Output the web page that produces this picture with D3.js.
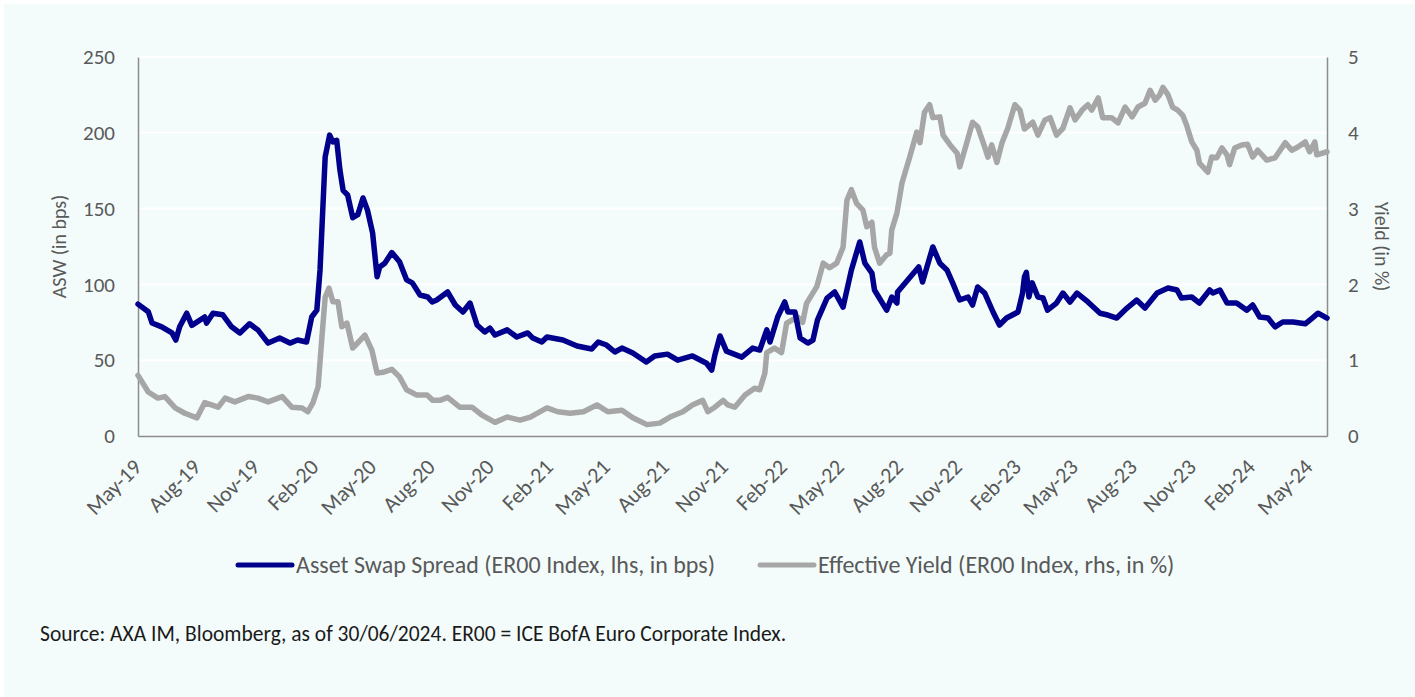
<!DOCTYPE html>
<html>
<head>
<meta charset="utf-8">
<script src="https://cdn.jsdelivr.net/npm/d3@7"></script>
<style>
  body { margin: 0; background: #ffffff; }
  svg { display: block; font-family: Carlito, Calibri, Lato, sans-serif; }
</style>
</head>
<body>
<svg id="chart" width="1415" height="697"></svg>
<script>
// ---------------- data ----------------
var aswDates = ["2019-05-31","2019-06-16","2019-06-22","2019-07-07","2019-07-23","2019-07-29","2019-08-04","2019-08-15","2019-08-23","2019-09-12","2019-09-15","2019-09-25","2019-10-10","2019-10-24","2019-11-06","2019-11-21","2019-12-04","2019-12-20","2020-01-07","2020-01-23","2020-02-04","2020-02-18","2020-02-26","2020-03-05","2020-03-10","2020-03-18","2020-03-25","2020-03-30","2020-04-05","2020-04-10","2020-04-15","2020-04-22","2020-04-30","2020-05-08","2020-05-16","2020-05-23","2020-05-31","2020-06-07","2020-06-11","2020-06-19","2020-06-30","2020-07-12","2020-07-23","2020-08-01","2020-08-13","2020-08-25","2020-09-01","2020-09-08","2020-09-25","2020-10-07","2020-10-19","2020-10-30","2020-11-10","2020-11-22","2020-11-30","2020-12-08","2020-12-27","2021-01-11","2021-01-28","2021-02-05","2021-02-19","2021-02-27","2021-03-24","2021-04-15","2021-05-08","2021-05-18","2021-05-31","2021-06-13","2021-06-24","2021-07-11","2021-08-01","2021-08-14","2021-09-03","2021-09-19","2021-10-12","2021-11-03","2021-11-11","2021-11-16","2021-11-24","2021-12-04","2021-12-28","2022-01-14","2022-01-25","2022-02-05","2022-02-10","2022-02-22","2022-03-05","2022-03-10","2022-03-21","2022-03-29","2022-04-10","2022-04-18","2022-04-25","2022-05-10","2022-05-22","2022-06-04","2022-06-17","2022-06-30","2022-07-08","2022-07-19","2022-07-23","2022-08-11","2022-08-19","2022-08-27","2022-08-28","2022-09-30","2022-10-06","2022-10-22","2022-11-02","2022-11-13","2022-11-22","2022-12-03","2022-12-16","2022-12-23","2022-12-31","2023-01-11","2023-01-24","2023-02-03","2023-02-14","2023-03-04","2023-03-11","2023-03-14","2023-03-17","2023-03-21","2023-03-26","2023-04-04","2023-04-12","2023-04-19","2023-05-03","2023-05-13","2023-05-24","2023-06-04","2023-06-21","2023-07-10","2023-07-22","2023-08-05","2023-08-21","2023-09-05","2023-09-18","2023-10-07","2023-10-24","2023-11-07","2023-11-14","2023-11-30","2023-12-12","2023-12-28","2024-01-02","2024-01-13","2024-01-24","2024-02-08","2024-02-24","2024-03-04","2024-03-15","2024-03-28","2024-04-08","2024-04-20","2024-05-06","2024-05-25","2024-06-05","2024-06-14","2024-06-28"];
var aswValues = [87,82,74.5,72,68,63.3,72,81,73,78.5,74.5,81,80,72,68,74,70,61.3,64.6,61.3,63.3,62,78.5,83,109.5,184,198.5,194,195,175.5,162,159,144,146,157,149,134,105,111.5,114,121,115,103,101,93,91.7,88.4,89.7,95,86.4,81.8,87.7,73.2,68.6,71.2,66.6,70,65.3,68,64.6,62,65.3,63.3,59.4,57.4,62,60,55.4,58,54.7,48.8,52.8,54,50,52.8,48,43.5,53.4,66,56,52,58,56.7,70,62,78.5,88.4,81.8,81.8,64.6,61.3,63.3,76.5,91,95,85,109.5,128,114,107.5,96.3,83,91.7,87.7,95,111.5,101.6,124.7,114,109.5,101,89.7,91.7,86.4,98.3,94.3,81.8,73.2,77.8,81.8,94.3,105,108,91.7,101,91.7,91,83,87.7,94.3,88.4,94.3,88.4,81,79.8,77.8,84.4,89.7,84.4,94.3,97.6,96.3,91,91.7,87.7,96.3,94.3,96.3,87.7,87.7,83,86.4,78.5,77.8,72,75.2,75.2,74,77.8,81,77.8];

var yieldDates = ["2019-05-31","2019-06-16","2019-07-01","2019-07-12","2019-07-28","2019-08-12","2019-08-31","2019-09-12","2019-10-03","2019-10-14","2019-10-29","2019-11-19","2019-12-04","2019-12-20","2020-01-11","2020-01-26","2020-02-11","2020-02-20","2020-02-28","2020-03-07","2020-03-13","2020-03-18","2020-03-24","2020-03-30","2020-04-07","2020-04-13","2020-04-21","2020-04-30","2020-05-08","2020-05-19","2020-05-30","2020-06-07","2020-06-16","2020-06-30","2020-07-12","2020-07-23","2020-08-08","2020-08-24","2020-09-02","2020-09-13","2020-09-25","2020-10-14","2020-11-02","2020-11-17","2020-12-08","2020-12-27","2021-01-16","2021-02-01","2021-02-27","2021-03-16","2021-04-04","2021-04-25","2021-05-16","2021-06-02","2021-06-24","2021-07-11","2021-08-02","2021-08-22","2021-09-07","2021-09-27","2021-10-12","2021-10-28","2021-11-05","2021-11-16","2021-11-29","2021-12-06","2021-12-17","2022-01-02","2022-01-17","2022-01-25","2022-02-02","2022-02-05","2022-02-17","2022-02-28","2022-03-08","2022-03-25","2022-04-02","2022-04-08","2022-04-24","2022-05-04","2022-05-14","2022-05-25","2022-06-04","2022-06-10","2022-06-17","2022-06-25","2022-07-05","2022-07-11","2022-07-19","2022-07-23","2022-07-31","2022-08-11","2022-08-16","2022-08-19","2022-08-27","2022-09-04","2022-09-16","2022-09-27","2022-10-02","2022-10-09","2022-10-17","2022-10-22","2022-11-02","2022-11-07","2022-11-18","2022-11-29","2022-12-03","2022-12-14","2022-12-23","2022-12-31","2023-01-11","2023-01-16","2023-01-22","2023-01-30","2023-02-07","2023-02-16","2023-02-27","2023-03-07","2023-03-14","2023-03-27","2023-04-04","2023-04-15","2023-04-23","2023-05-03","2023-05-13","2023-05-24","2023-06-01","2023-06-12","2023-06-21","2023-06-27","2023-07-07","2023-07-14","2023-07-28","2023-08-07","2023-08-18","2023-08-29","2023-09-07","2023-09-18","2023-09-26","2023-10-04","2023-10-11","2023-10-16","2023-10-24","2023-10-31","2023-11-08","2023-11-16","2023-11-22","2023-11-30","2023-12-08","2023-12-12","2023-12-25","2023-12-31","2024-01-08","2024-01-16","2024-01-24","2024-01-28","2024-02-05","2024-02-16","2024-02-25","2024-03-04","2024-03-12","2024-03-26","2024-04-08","2024-04-24","2024-05-04","2024-05-13","2024-05-25","2024-06-01","2024-06-09","2024-06-12","2024-06-28"];
var yieldValues = [0.80,0.58,0.50,0.52,0.37,0.30,0.24,0.44,0.38,0.50,0.45,0.52,0.50,0.45,0.52,0.38,0.37,0.32,0.44,0.65,1.31,1.83,1.95,1.77,1.77,1.44,1.49,1.16,1.23,1.33,1.13,0.83,0.84,0.88,0.78,0.61,0.54,0.54,0.47,0.47,0.51,0.38,0.38,0.28,0.18,0.25,0.21,0.25,0.37,0.32,0.30,0.32,0.41,0.32,0.34,0.24,0.15,0.17,0.25,0.32,0.41,0.47,0.32,0.38,0.47,0.41,0.38,0.54,0.63,0.61,0.83,1.10,1.16,1.10,1.49,1.57,1.50,1.75,1.97,2.28,2.22,2.28,2.49,3.11,3.25,3.07,2.98,2.76,2.82,2.49,2.28,2.39,2.41,2.72,2.94,3.34,3.68,4.01,3.87,4.27,4.37,4.20,4.21,3.97,3.84,3.73,3.55,3.87,4.14,4.08,3.81,3.68,3.84,3.61,3.87,4.06,4.37,4.30,4.05,4.14,3.97,4.17,4.20,3.97,4.06,4.33,4.17,4.30,4.37,4.30,4.46,4.20,4.20,4.13,4.34,4.21,4.34,4.39,4.56,4.43,4.50,4.60,4.50,4.34,4.30,4.23,4.10,3.88,3.77,3.60,3.48,3.68,3.67,3.80,3.71,3.58,3.80,3.84,3.85,3.68,3.77,3.64,3.67,3.87,3.77,3.81,3.88,3.75,3.88,3.71,3.75];

var xTickLabels = ["May-19","Aug-19","Nov-19","Feb-20","May-20","Aug-20","Nov-20","Feb-21","May-21","Aug-21","Nov-21","Feb-22","May-22","Aug-22","Nov-22","Feb-23","May-23","Aug-23","Nov-23","Feb-24","May-24"];
var leftTicks = [0, 50, 100, 150, 200, 250];
var rightTicks = [0, 1, 2, 3, 4, 5];
var seriesNames = ["Asset Swap Spread (ER00 Index, lhs, in bps)", "Effective Yield (ER00 Index, rhs, in %)"];
var seriesColors = ["#00008c", "#a6a6a6"];

// ---------------- layout ----------------
var parseDate = d3.timeParse("%Y-%m-%d");
var startDate = parseDate("2019-05-31");
var endDate = parseDate("2024-06-28");

var svg = d3.select("#chart");
var plotLeft = 138, plotRight = 1327, plotTop = 57, plotBottom = 436;

svg.append("rect")
    .attr("x", 4).attr("y", 4)
    .attr("width", 1411).attr("height", 693)
    .style("fill", "#f3fcfb");

var x = d3.scaleTime().domain([startDate, endDate]).range([plotLeft, plotRight]);
var yL = d3.scaleLinear().domain([0, 250]).range([plotBottom, plotTop]);
var yR = d3.scaleLinear().domain([0, 5]).range([plotBottom, plotTop]);

// gridlines
svg.append("g")
    .selectAll("line")
    .data(leftTicks.filter(function(d) { return d > 0; }))
    .enter().append("line")
    .attr("x1", plotLeft).attr("x2", plotRight)
    .attr("y1", function(d) { return yL(d); })
    .attr("y2", function(d) { return yL(d); })
    .style("stroke", "#ffffff")
    .style("stroke-width", 2);

// axes
var tickDates = xTickLabels.map(function(d, i) { return d3.timeMonth.offset(startDate, 3 * i); });

var xAxis = svg.append("g")
    .attr("transform", "translate(0," + plotBottom + ")")
    .call(d3.axisBottom(x).tickValues(tickDates).tickSize(0)
        .tickFormat(function(d, i) { return xTickLabels[i]; }));
xAxis.attr("font-family", null);
xAxis.select(".domain").style("stroke", "#8c8c8c").style("stroke-width", 1.5);
xAxis.selectAll("text")
    .style("font-size", "22px")
    .style("fill", "#595959")
    .attr("text-anchor", "end")
    .attr("y", 0)
    .attr("dy", "0.35em")
    .attr("transform", "translate(-1,27) rotate(-45)");

var leftAxis = svg.append("g")
    .attr("transform", "translate(" + plotLeft + ",0)")
    .call(d3.axisLeft(yL).tickValues(leftTicks).tickSize(0).tickPadding(23));
leftAxis.attr("font-family", null);
leftAxis.select(".domain").style("stroke", "#8c8c8c").style("stroke-width", 1.5);
leftAxis.selectAll("text").style("font-size", "21px").style("fill", "#595959");

var rightAxis = svg.append("g")
    .attr("transform", "translate(" + plotRight + ",0)")
    .call(d3.axisRight(yR).tickValues(rightTicks).tickSize(0).tickPadding(21)
        .tickFormat(d3.format("d")));
rightAxis.attr("font-family", null);
rightAxis.select(".domain").style("stroke", "#8c8c8c").style("stroke-width", 1.5);
rightAxis.selectAll("text").style("font-size", "21px").style("fill", "#595959");

svg.append("text")
    .attr("transform", "translate(66," + ((plotTop + plotBottom) / 2) + ") rotate(-90)")
    .attr("text-anchor", "middle")
    .style("font-size", "20px")
    .style("fill", "#595959")
    .text("ASW (in bps)");

svg.append("text")
    .attr("transform", "translate(1375," + ((plotTop + plotBottom) / 2) + ") rotate(90)")
    .attr("text-anchor", "middle")
    .style("font-size", "20px")
    .style("fill", "#595959")
    .text("Yield (in %)");

// lines
var yieldData = yieldDates.map(function(d, i) { return { date: parseDate(d), value: yieldValues[i] }; });
var aswData = aswDates.map(function(d, i) { return { date: parseDate(d), value: aswValues[i] }; });

var yieldLine = d3.line()
    .x(function(d) { return x(d.date); })
    .y(function(d) { return yR(d.value); });
var aswLine = d3.line()
    .x(function(d) { return x(d.date); })
    .y(function(d) { return yL(d.value); });

svg.append("path")
    .datum(yieldData)
    .attr("d", yieldLine)
    .style("fill", "none")
    .style("stroke", seriesColors[1])
    .style("stroke-width", 5.5)
    .style("stroke-linejoin", "round")
    .style("stroke-linecap", "round");

svg.append("path")
    .datum(aswData)
    .attr("d", aswLine)
    .style("fill", "none")
    .style("stroke", seriesColors[0])
    .style("stroke-width", 5.5)
    .style("stroke-linejoin", "round")
    .style("stroke-linecap", "round");

// legend
var legendX = [238, 760];
var legend = svg.selectAll(".legendItem")
    .data(seriesNames)
    .enter().append("g")
    .attr("class", "legendItem")
    .attr("transform", function(d, i) { return "translate(" + legendX[i] + ",565)"; });

legend.append("line")
    .attr("x1", 0).attr("x2", 54)
    .attr("y1", 0).attr("y2", 0)
    .style("stroke", function(d, i) { return seriesColors[i]; })
    .style("stroke-width", 5)
    .style("stroke-linecap", "round");

legend.append("text")
    .attr("x", 58)
    .attr("y", 0)
    .attr("dy", "0.35em")
    .style("font-size", "24px")
    .style("fill", "#595959")
    .text(function(d) { return d; });

svg.append("text")
    .attr("x", 40)
    .attr("y", 641)
    .style("font-size", "21.5px")
    .style("fill", "#1a1a1a")
    .text("Source: AXA IM, Bloomberg, as of 30/06/2024. ER00 = ICE BofA Euro Corporate Index.");
</script>
</body>
</html>
